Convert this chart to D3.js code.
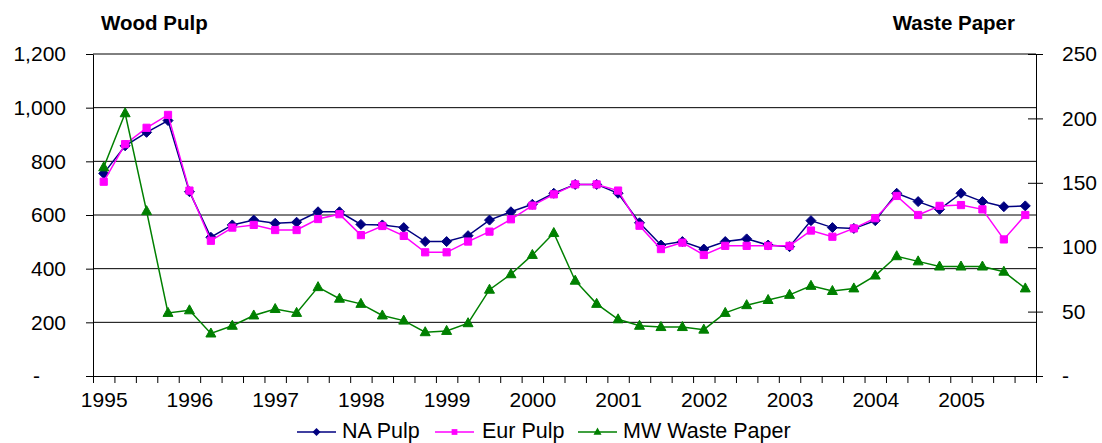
<!DOCTYPE html>
<html>
<head>
<meta charset="utf-8">
<script src="https://cdn.jsdelivr.net/npm/d3@7"></script>
<style>
  html, body { margin: 0; padding: 0; background: #fff; }
  svg { display: block; font-family: "Liberation Sans", Arial, sans-serif; }
</style>
</head>
<body>
<svg id="chart" width="1102" height="443"></svg>
<script>
// Quarterly prices, 1995 Q1 – 2005 Q4
const years = ["1995","1996","1997","1998","1999","2000","2001","2002","2003","2004","2005"];
const quarters = years.flatMap(y => ["Q1","Q2","Q3","Q4"].map(q => y + " " + q));

// Wood pulp, left axis
const naPulp  = [755,858,908,952, 687,517,563,581, 569,573,612,612, 565,563,553,501,
                 501,523,581,612, 640,681,714,714, 681,571,488,501, 473,501,511,488,
                 482,579,553,550, 579,681,650,621, 681,650,631,634];
const eurPulp = [724,864,925,973, 691,504,553,563, 544,544,585,603, 525,559,522,461,
                 461,501,538,584, 635,677,714,714, 691,560,473,497, 451,485,485,485,
                 485,542,519,550, 588,671,600,634, 637,621,509,600];
// Waste paper, right axis
const mwWaste = [162,204,128,49, 51,33,39,47, 52,49,69,60, 56,47,43,34,
                 35,41,67,79, 94,111,74,56, 44,39,38,38, 36,49,55,59,
                 63,70,66,68, 78,93,89,85, 85,85,81,68];

const leftTicks  = [0,200,400,600,800,1000,1200];
const rightTicks = [0,50,100,150,200,250];

const series = [
  { name: "NA Pulp",        values: naPulp,  axis: "left",  color: "#000080", marker: "diamond" },
  { name: "Eur Pulp",       values: eurPulp, axis: "left",  color: "#FF00FF", marker: "square" },
  { name: "MW Waste Paper", values: mwWaste, axis: "right", color: "#008000", marker: "triangle" }
];

const svg = d3.select("#chart");
const plot = { left: 93, right: 1036, top: 54, bottom: 376 };

const xi = d3.scaleLinear().domain([0, quarters.length]).range([plot.left, plot.right]);
const yL = d3.scaleLinear().domain([0, 1200]).range([plot.bottom, plot.top]);
const yR = d3.scaleLinear().domain([0, 250]).range([plot.bottom, plot.top]);

const markerPath = {
  diamond:  s => `M0,${-5*s}L${5*s},0L0,${5*s}L${-5*s},0Z`,
  square:   s => `M${-3.6*s},${-3.6*s}h${7.2*s}v${7.2*s}h${-7.2*s}Z`,
  triangle: s => `M0,${-5.5*s}L${5*s},${3.5*s}L${-5*s},${3.5*s}Z`
};

// Horizontal gridlines (left-axis values)
svg.append("g")
  .selectAll("line")
  .data(leftTicks.filter(d => d > 0))
  .join("line")
  .attr("x1", plot.left).attr("x2", plot.right)
  .attr("y1", d => yL(d)).attr("y2", d => yL(d))
  .attr("stroke", "#000").attr("stroke-width", 1);

const fmt = d3.format(",");

// Left axis
const gL = svg.append("g")
  .attr("transform", `translate(${plot.left},0)`)
  .call(d3.axisLeft(yL).tickValues(leftTicks).tickSize(7).tickSizeOuter(0)
        .tickPadding(20).tickFormat(d => d === 0 ? "-" : fmt(d)));
gL.selectAll("text").filter(d => d === 0).attr("dx", -26);

// Right axis (ticks cross the axis line)
const gR = svg.append("g")
  .attr("transform", `translate(${plot.right},0)`)
  .call(d3.axisRight(yR).tickValues(rightTicks).tickSize(7).tickSizeOuter(0)
        .tickPadding(19).tickFormat(d => d === 0 ? "-" : d));
gR.selectAll(".tick line").attr("x1", -8);

// Bottom axis: marks between quarters, year labels on first quarter
const gB = svg.append("g")
  .attr("transform", `translate(0,${plot.bottom})`)
  .call(d3.axisBottom(xi).tickValues(d3.range(quarters.length + 1)).tickSize(7)
        .tickSizeOuter(0).tickFormat(""));
const yearIdx = years.map((y, i) => i * 4 + 0.5);
svg.append("g")
  .attr("transform", `translate(0,${plot.bottom})`)
  .call(d3.axisBottom(xi).tickValues(yearIdx).tickSize(0).tickPadding(16)
        .tickFormat((d, i) => years[i]))
  .call(g => g.select(".domain").remove());

svg.selectAll(".domain").attr("stroke", "#000").attr("stroke-width", 1);
svg.selectAll(".tick line").attr("stroke", "#000");
svg.selectAll(".tick text").attr("font-size", 21).attr("fill", "#000")
  .attr("font-family", "Liberation Sans, Arial, sans-serif");

// Axis titles
svg.append("text").attr("x", 101).attr("y", 30)
  .attr("font-size", 20.5).attr("font-weight", "bold").text("Wood Pulp");
svg.append("text").attr("x", 1015).attr("y", 30).attr("text-anchor", "end")
  .attr("font-size", 20.5).attr("font-weight", "bold").text("Waste Paper");

// Series lines and markers
series.forEach(s => {
  const y = s.axis === "left" ? yL : yR;
  const line = d3.line().x((d, i) => xi(i + 0.5)).y(d => y(d));
  svg.append("path").datum(s.values)
    .attr("d", line).attr("fill", "none")
    .attr("stroke", s.color).attr("stroke-width", 1.5);
  svg.append("g").selectAll("path")
    .data(s.values).join("path")
    .attr("transform", (d, i) => `translate(${xi(i + 0.5)},${y(d)})`)
    .attr("d", markerPath[s.marker](1))
    .attr("fill", s.color).attr("stroke", s.color).attr("stroke-width", 1);
});

// Legend
const legendItems = [
  { x: 297, text: 342 },
  { x: 435, text: 482 },
  { x: 578, text: 623 }
];
const lg = svg.append("g");
series.forEach((s, i) => {
  const it = legendItems[i];
  lg.append("line").attr("x1", it.x).attr("x2", it.x + 39)
    .attr("y1", 432).attr("y2", 432)
    .attr("stroke", s.color).attr("stroke-width", 1.5);
  lg.append("path").attr("transform", `translate(${it.x + 19.5},432)`)
    .attr("d", markerPath[s.marker](0.8)).attr("fill", s.color);
  lg.append("text").attr("x", it.text).attr("y", 437.5)
    .attr("font-size", 21.5).text(s.name);
});
</script>
</body>
</html>
